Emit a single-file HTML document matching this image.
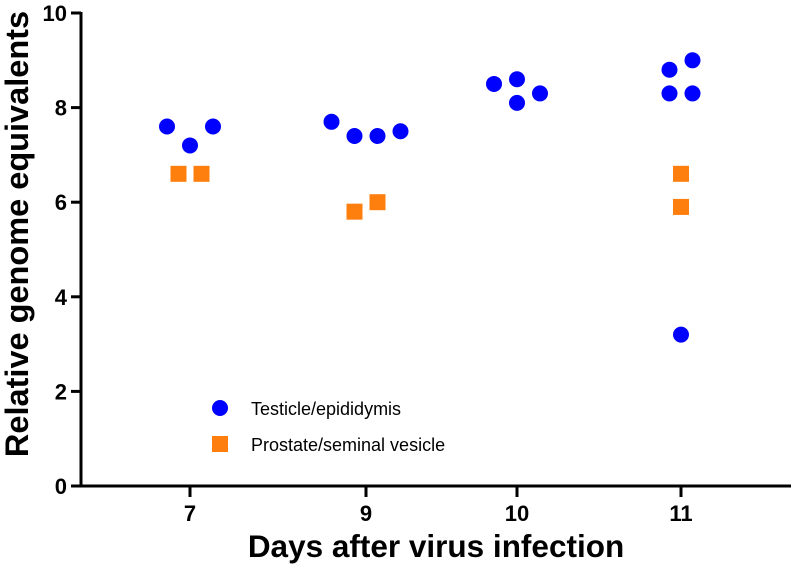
<!DOCTYPE html>
<html><head><meta charset="utf-8"><style>
body{margin:0;background:#fff}
svg text{font-family:"Liberation Sans",Arial,sans-serif}
</style></head><body>
<svg id="chart" width="791" height="567" viewBox="0 0 791 567" xmlns="http://www.w3.org/2000/svg">
<g id="axes"></g><g id="marks"></g>
<g>
<circle cx="220" cy="408" r="8" fill="#0000ff"/>
<text x="251" y="415" font-size="18">Testicle/epididymis</text>
<rect x="212" y="436" width="16" height="16" fill="#ff7f0e"/>
<text x="251" y="451" font-size="18">Prostate/seminal vesicle</text>
</g>
</svg>
<script>
const categories=["7","9","10","11"];
const yTicks=[0,2,4,6,8,10];
// testicle: category index, jitter offset (fraction of slot), value
const tCat=[0,0,0,1,1,1,1,2,2,2,2,3,3,3,3,3];
const tJit=[-1,0,1,-1.5,-0.5,0.5,1.5,-1,0,0,1,-0.5,0.5,-0.5,0.5,0];
const tVal=[7.6,7.2,7.6,7.7,7.4,7.4,7.5,8.5,8.6,8.1,8.3,8.8,9.0,8.3,8.3,3.2];
const pCat=[0,0,1,1,3,3];
const pJit=[-0.5,0.5,-0.5,0.5,0,0];
const pVal=[6.6,6.6,5.8,6.0,6.6,5.9];
const catX=[190,366,517,681];
const ns="http://www.w3.org/2000/svg";
const y0=486,y1=13;
const yS=v=>y0-(y0-y1)*v/10;
const xS=(c,j)=>catX[c]+j*23;
const ax=document.getElementById('axes'),mk=document.getElementById('marks');
function mkEl(t,a,p){const e=document.createElementNS(ns,t);for(const k in a)e.setAttribute(k,a[k]);p.appendChild(e);return e;}
let e=mkEl('line',{x1:81,y1:y1-1,x2:81,y2:y0+1.5,stroke:'#000','stroke-width':3},ax);


e=mkEl('line',{x1:79.5,y1:y0,x2:791,y2:y0,stroke:'#000','stroke-width':3},ax);


yTicks.forEach(v=>{
 let t=mkEl('line',{x1:71,y1:yS(v),x2:81,y2:yS(v),stroke:'#000','stroke-width':3},ax);
 
 
 let l=mkEl('text',{x:67,y:yS(v)+8,'font-size':22,'font-weight':'bold','text-anchor':'end'},ax);
 l.textContent=v;
 
 
});
categories.forEach((c,i)=>{
 let t=mkEl('line',{x1:catX[i],y1:y0,x2:catX[i],y2:y0+11,stroke:'#000','stroke-width':3},ax);
 
 
 let l=mkEl('text',{x:catX[i],y:521,'font-size':22,'font-weight':'bold','text-anchor':'middle'},ax);
 l.textContent=c;
 
 
});
let xt=mkEl('text',{x:436,y:557,'font-size':31.5,'font-weight':'bold','text-anchor':'middle'},ax);
xt.textContent='Days after virus infection';


let yt=mkEl('text',{x:0,y:0,'font-size':32.5,'font-weight':'bold','text-anchor':'middle',transform:'translate(28,234) rotate(-90)'},ax);
yt.textContent='Relative genome equivalents';


tVal.forEach((v,i)=>{
 let c=mkEl('circle',{cx:xS(tCat[i],tJit[i]),cy:yS(v),r:8,fill:'#0000ff'},mk);
 
 
});
pVal.forEach((v,i)=>{
 let r=mkEl('rect',{x:xS(pCat[i],pJit[i])-8,y:yS(v)-8,width:16,height:16,fill:'#ff7f0e'},mk);
 
 
});
</script>
</body></html>
